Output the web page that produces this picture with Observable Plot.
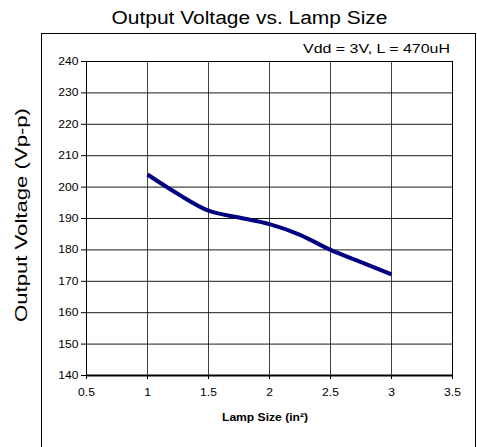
<!DOCTYPE html>
<html>
<head>
<meta charset="utf-8">
<script src="https://cdn.jsdelivr.net/npm/d3@7"></script>
<script src="https://cdn.jsdelivr.net/npm/@observablehq/plot@0.6"></script>
<style>
  html, body { margin: 0; padding: 0; background: #fff; }
  #chart svg { display: block; }
</style>
</head>
<body>
<div id="chart"></div>
<script>
const lampSize = [1, 1.25, 1.5, 1.75, 2, 2.25, 2.5, 2.75, 3];
const outputVoltage = [204, 197.8, 192.5, 190.3, 188.2, 184.8, 180, 176.1, 172.2];
const xTicks = [0.5, 1, 1.5, 2, 2.5, 3, 3.5];
const yTicks = [140, 150, 160, 170, 180, 190, 200, 210, 220, 230, 240];
const titleText = "Output Voltage vs. Lamp Size";
const noteText = "Vdd = 3V, L = 470uH";
const xLabel = "Lamp Size (in²)";
const yLabel = "Output Voltage (Vp-p)";

const data = lampSize.map((x, i) => ({x, y: outputVoltage[i]}));
const font = "'Liberation Sans', Arial, sans-serif";

const plot = Plot.plot({
  width: 477,
  height: 447,
  marginLeft: 86,
  marginRight: 25,
  marginTop: 61,
  marginBottom: 72,
  style: {fontFamily: font, fontSize: "11px", color: "#000", background: "#fff", overflow: "visible"},
  x: {domain: [0.5, 3.5], ticks: xTicks, tickFormat: d => String(d), tickSize: 4, tickPadding: 9, label: null},
  y: {domain: [140, 240], ticks: yTicks, tickFormat: d => String(d), tickSize: 5, tickPadding: 3, label: null},
  marks: [
    Plot.gridX(xTicks, {stroke: "#000", strokeOpacity: 0.75, strokeWidth: 1}),
    Plot.gridY(yTicks, {stroke: "#000", strokeOpacity: 0.9, strokeWidth: 1}),
    Plot.frame({stroke: "#000", strokeWidth: 1}),
    Plot.ruleY([140], {stroke: "#000", strokeWidth: 2}),
    Plot.axisX({ticks: xTicks, tickFormat: d => String(d), tickSize: 4, tickPadding: 9, label: null}),
    Plot.axisY({ticks: yTicks, tickFormat: d => String(d), tickSize: 5, tickPadding: 3, label: null}),
    Plot.line(data, {x: "x", y: "y", stroke: "#000080", strokeWidth: 4, curve: "catmull-rom", strokeLinecap: "butt"})
  ]
});

document.getElementById("chart").appendChild(plot);

// widen tick labels slightly to match the reference rendering
plot.querySelectorAll('g[aria-label$="tick label"] text').forEach(t => {
  const tr = t.getAttribute("transform");
  if (tr) t.setAttribute("transform", tr + " scale(1.1,1)");
});

const svg = d3.select(plot);
// outer chart-area border
svg.append("rect")
  .attr("x", 41.5).attr("y", 33.5).attr("width", 434).attr("height", 420)
  .attr("fill", "none").attr("stroke", "#000").attr("stroke-width", 1);

function addText(x, y, str, size, len, opts = {}) {
  const t = svg.append("text")
    .attr("font-family", font).attr("font-size", size)
    .attr("text-anchor", "start")
    .attr("textLength", len).attr("lengthAdjust", "spacingAndGlyphs")
    .attr("fill", "#000")
    .text(str);
  if (opts.rotate) t.attr("transform", `translate(${x},${y}) rotate(-90)`);
  else t.attr("x", x).attr("y", y);
  if (opts.bold) t.attr("font-weight", "bold");
  return t;
}

addText(111.5, 24, titleText, 18, 276);
addText(303, 53, noteText, 13.5, 147);
addText(27, 322, yLabel, 16, 214, {rotate: true});
addText(222, 421, xLabel, 11.5, 86, {bold: true});
</script>
</body>
</html>
